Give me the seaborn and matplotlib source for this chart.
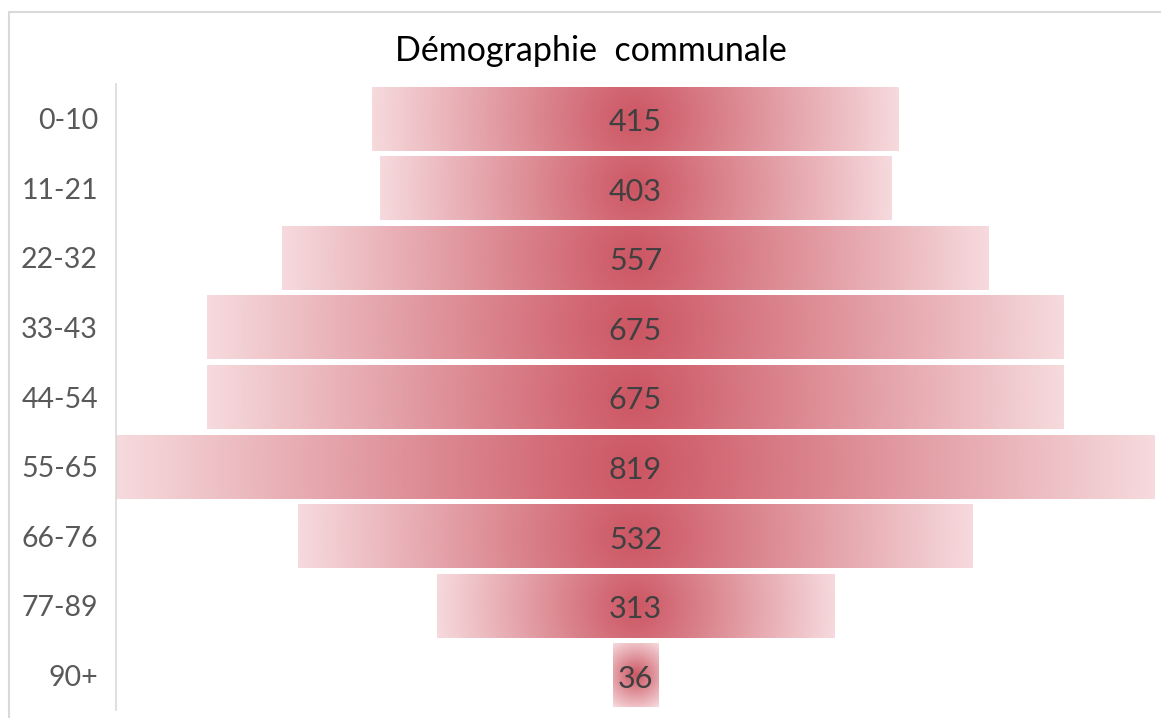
import numpy as np
import pandas as pd
import matplotlib.pyplot as plt
import seaborn as sns
from matplotlib.colors import LinearSegmentedColormap
from matplotlib.patches import Rectangle

sns.set_theme(style="white")
plt.rcParams['font.family'] = ['Lato', 'DejaVu Sans']

# data
age_groups = ['0-10', '11-21', '22-32', '33-43', '44-54', '55-65', '66-76', '77-89', '90+']
population = [415, 403, 557, 675, 675, 819, 532, 313, 36]

df = pd.DataFrame({'Age': age_groups, 'Population': population})

W, H = 1161, 718
fig = plt.figure(figsize=(W / 100, H / 100), dpi=100)
ax = fig.add_axes([116 / W, 8 / H, 1039 / W, 626 / H])

sns.barplot(data=df, x='Population', y='Age', orient='h', width=0.92,
            color='white', ax=ax)

# center the bars (funnel layout)
max_val = max(population)
ax.set_xlim(-max_val / 2, max_val / 2)
ax.set_ylim(len(age_groups) - 0.5, -0.5)

cmap = LinearSegmentedColormap.from_list('grad', ['#CC5663', '#F6DADD'])

# pixels per data unit, for a round-looking radial gradient
px_x = ax.bbox.width / max_val
px_y = ax.bbox.height / len(age_groups)

for patch in ax.patches:
    w = patch.get_width()
    patch.set_x(-w / 2)
    patch.set_facecolor('none')
    patch.set_edgecolor('none')
    y0, h = patch.get_y(), patch.get_height()
    hw, hh = w / 2 * px_x, h / 2 * px_y
    dx = np.linspace(-hw, hw, 400)
    dy = np.linspace(-hh, hh, 60)
    xx, yy = np.meshgrid(dx, dy)
    r = np.sqrt(xx ** 2 + yy ** 2) / np.sqrt(hw ** 2 + hh ** 2)
    ax.imshow(r, extent=[-w / 2, w / 2, y0 + h, y0], cmap=cmap, vmin=0, vmax=1,
              aspect='auto', interpolation='bilinear', clip_path=patch, zorder=2)

ax.set_xlim(-max_val / 2, max_val / 2)
ax.set_ylim(len(age_groups) - 0.5, -0.5)

# value labels
for i, v in enumerate(population):
    ax.annotate(str(v), (0, i), xytext=(0, -2.5), textcoords='offset points',
                ha='center', va='center', fontsize=22, color='#404040', zorder=3)

ax.set_xlabel('')
ax.set_ylabel('')
ax.set_xticks([])
ax.tick_params(axis='y', length=0, pad=13, labelsize=20.5, labelcolor='#595959')
for side in ['top', 'right', 'bottom']:
    ax.spines[side].set_visible(False)
ax.spines['left'].set_color('#D9D9D9')
ax.spines['left'].set_linewidth(1.2)

fig.text(591 / W, 1 - 61 / H, 'Démographie  communale', ha='center',
         va='baseline', fontsize=24.5, color='black')

# chart area border
fig.add_artist(Rectangle((9 / W, -0.05), 1.1, 1.05 - 12 / H,
                         transform=fig.transFigure, fill=False,
                         edgecolor='#D9D9D9', linewidth=1.5))

fig.savefig('out.png', dpi=100)
